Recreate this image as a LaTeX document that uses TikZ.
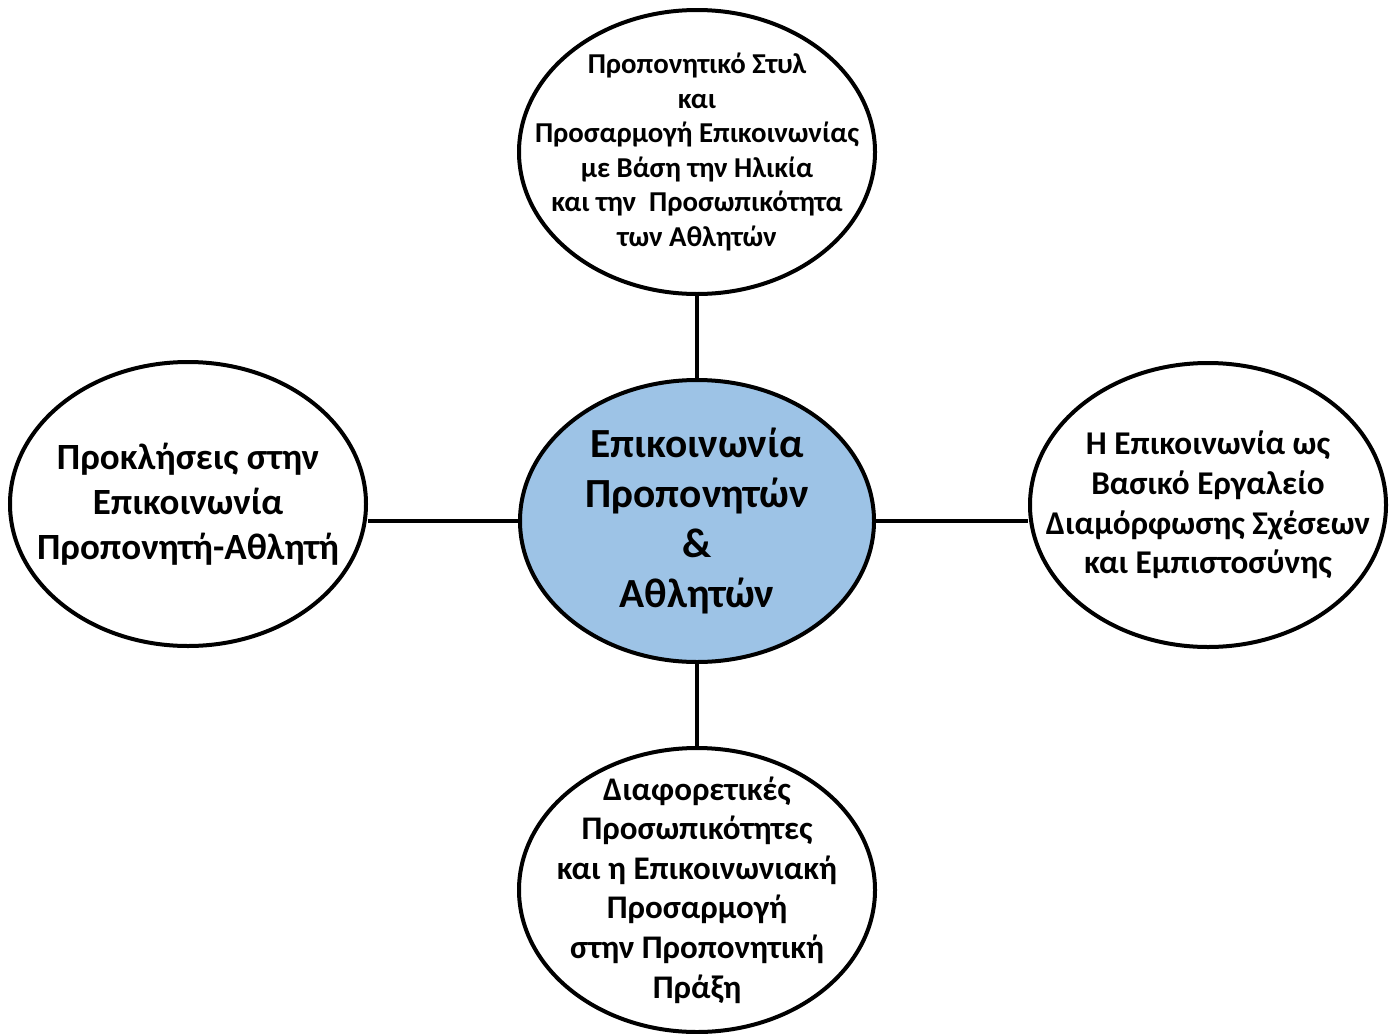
\documentclass[tikz,border=0pt]{standalone}
\usepackage{fontspec}
\setmainfont{Carlito}
\usepackage{tikz}
\usetikzlibrary{shapes,positioning,calc}
\definecolor{hubblue}{RGB}{157,195,230}
\tikzset{
hub/.style = {draw, fill=hubblue, ellipse, line width=2pt, minimum width=177pt, minimum height=141pt, inner sep=-40pt, align=center, font=\fontsize{20.7}{25}\selectfont\bfseries},
topic/.style = {draw, fill=white, ellipse, line width=2pt, minimum width=178pt, minimum height=142pt, inner sep=-40pt, align=center, font=\fontsize{16.5}{19.8}\selectfont\bfseries},
link/.style = {line width=2pt}
}

\begin{document}
\begin{tikzpicture}[x=0.5pt, y=-0.5pt, node distance=184.5pt]
        \useasboundingbox (0,0) rectangle (1391,1033);
        \node [hub] (hub) at (697,521) {Επικοινωνία\\Προπονητών\\\&\\Αθλητών};
        \node [topic, above of=hub, font=\fontsize{14.4}{17.3}\selectfont\bfseries] (style) {Προπονητικό Στυλ\\και\\Προσαρμογή Επικοινωνίας\\με Βάση την Ηλικία\\και την~ Προσωπικότητα\\των Αθλητών};
        \node [topic, below of=hub] (diff) {Διαφορετικές\\Προσωπικότητες\\και η Επικοινωνιακή\\Προσαρμογή\\στην Προπονητική\\Πράξη};
        \node [topic, left of=hub, node distance=254.5pt, yshift=8.5pt, font=\fontsize{18.5}{22.5}\selectfont\bfseries] (chal) {Προκλήσεις στην\\Επικοινωνία\\Προπονητή-Αθλητή};
        \node [topic, right of=hub, node distance=255.5pt, yshift=8pt, font=\fontsize{16.6}{19.8}\selectfont\bfseries] (tool) {Η Επικοινωνία ως\\Βασικό Εργαλείο\\Διαμόρφωσης Σχέσεων\\και Εμπιστοσύνης};
        \draw [link] (hub) -- (style);
        \draw [link] (hub) -- (diff);
        \draw [link] (hub.west) -- (hub.west -| chal.east);
        \draw [link] (hub.east) -- (hub.east -| tool.west);
\end{tikzpicture}
\end{document}
